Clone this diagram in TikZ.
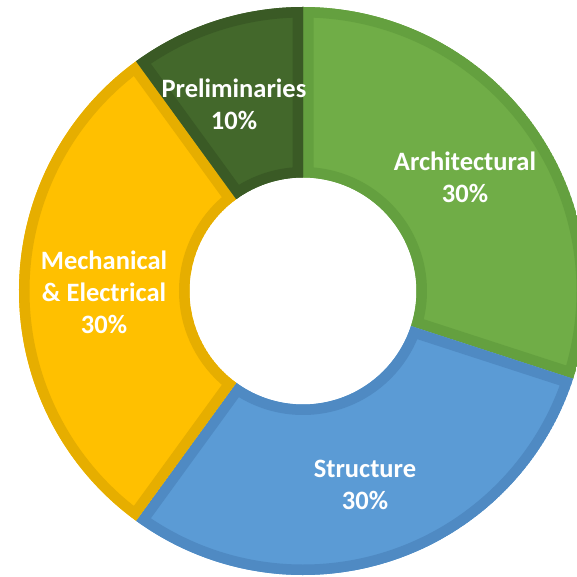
\documentclass[tikz,border=0pt]{standalone}
\usepackage{fontspec}
\setmainfont{Carlito}
\usepackage{tikz}
\definecolor{archfill}{HTML}{70AD47}
\definecolor{archedge}{HTML}{64A03F}
\definecolor{strfill}{HTML}{5B9BD5}
\definecolor{stredge}{HTML}{4F8AC3}
\definecolor{mepfill}{HTML}{FFC000}
\definecolor{mepedge}{HTML}{E6AE00}
\definecolor{prefill}{HTML}{43682B}
\definecolor{preedge}{HTML}{3A5A25}
\tikzset{%
	lbl/.style = {name = #1, align = center, text = white, inner sep = 0pt, font = \fontsize{26.5}{32}\selectfont\bfseries},
	rim/.style = {line width = 21}
}
\def\rout{284}
\def\rin{113.5}

\begin{document}
\begin{tikzpicture}[x=1pt, y=1pt]
			\useasboundingbox (-303,-286) rectangle (274,291);
			\foreach \a/\b/\fc/\ec in {90/-18/archfill/archedge, -18/-126/strfill/stredge, -126/-234/mepfill/mepedge, 126/90/prefill/preedge} {
				\begin{scope}
					\clip (\a:\rout) arc [start angle = \a, end angle = \b, radius = \rout] -- (\b:\rin) arc [start angle = \b, end angle = \a, radius = \rin] -- cycle;
					\filldraw [fill = \fc, draw = \ec, rim] (\a:\rout) arc [start angle = \a, end angle = \b, radius = \rout] -- (\b:\rin) arc [start angle = \b, end angle = \a, radius = \rin] -- cycle;
				\end{scope}
			}
			\node [lbl = {arch}] at (162,113.5) {Architectural\\30\%};
			\node [lbl = {struct}] at (62,-193.5) {Structure\\30\%};
			\node [lbl = {mep}] at (-199,-1.5) {Mechanical\\\& Electrical\\30\%};
			\node [lbl = {prelim}] at (-69,187) {Preliminaries\\10\%};
			\end{tikzpicture}
\end{document}
